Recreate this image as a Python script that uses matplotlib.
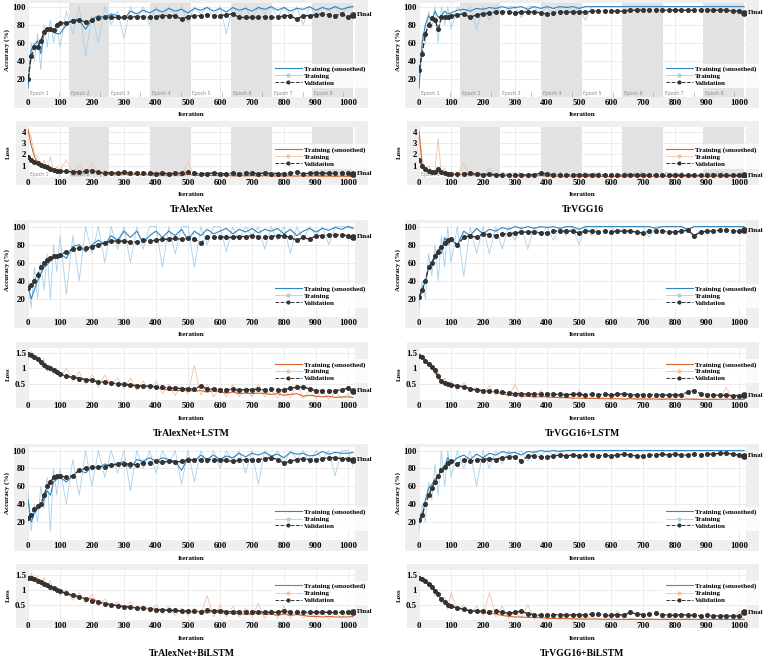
import matplotlib.pyplot as plt
from matplotlib.patches import Rectangle
from matplotlib.lines import Line2D

iters = [0, 10, 20, 30, 40, 50, 60, 70, 80, 90,
         100, 120, 140, 160, 180, 200, 220, 240, 260, 280,
         300, 320, 340, 360, 380, 400, 420, 440, 460, 480,
         500, 520, 540, 560, 580, 600, 620, 640, 660, 680,
         700, 720, 740, 760, 780, 800, 820, 840, 860, 880,
         900, 920, 940, 960, 980, 1000, 1016]

titles = ['TrAlexNet', 'TrVGG16', 'TrAlexNet+LSTM', 'TrVGG16+LSTM',
          'TrAlexNet+BiLSTM', 'TrVGG16+BiLSTM']

# ---- TrAlexNet ----
alex_acc_s = [10, 52, 58, 62, 48, 70, 75, 74, 72, 70,
              70, 80, 86, 85, 75, 86, 90, 88, 92, 90,
              86, 95, 92, 96, 93, 97, 94, 98, 95, 97,
              93, 98, 96, 99, 95, 98, 94, 99, 96, 98,
              95, 99, 97, 100, 96, 99, 95, 98, 97, 100,
              96, 99, 97, 100, 97, 99, 100]
alex_acc_r = [10, 60, 40, 70, 30, 80, 55, 85, 60, 80,
              55, 95, 70, 100, 45, 90, 60, 100, 80, 95,
              65, 100, 85, 100, 80, 100, 85, 100, 90, 100,
              82, 100, 92, 100, 88, 100, 70, 100, 90, 100,
              85, 100, 92, 100, 88, 100, 90, 100, 80, 100,
              92, 100, 95, 100, 90, 100, 100]
alex_acc_v = [20, 45, 55, 55, 62, 72, 75, 75, 74, 80,
              82, 82, 84, 85, 83, 85, 87, 88, 88, 88,
              88, 88, 89, 89, 88, 89, 90, 90, 90, 86,
              89, 90, 90, 91, 90, 90, 91, 92, 88, 88,
              88, 88, 89, 88, 88, 90, 90, 86, 90, 90,
              91, 92, 91, 90, 92, 88, 91]
alex_loss_s = [4.2, 2.8, 1.8, 1.3, 1.0, 0.8, 0.7, 0.9, 0.6, 0.55,
               0.5, 0.45, 0.5, 0.4, 0.45, 0.65, 0.3, 0.3, 0.25, 0.25,
               0.25, 0.2, 0.22, 0.2, 0.18, 0.2, 0.18, 0.15, 0.2, 0.15,
               0.25, 0.15, 0.12, 0.15, 0.12, 0.12, 0.15, 0.1, 0.12, 0.1,
               0.12, 0.1, 0.12, 0.08, 0.1, 0.08, 0.1, 0.08, 0.1, 0.08,
               0.1, 0.07, 0.08, 0.06, 0.08, 0.06, 0.05]
alex_loss_r = [4.2, 3.5, 2.0, 1.8, 0.8, 1.5, 0.6, 1.8, 0.5, 0.9,
               0.6, 1.5, 0.4, 1.0, 0.5, 1.2, 0.2, 0.6, 0.3, 0.5,
               0.2, 0.5, 0.2, 0.3, 0.15, 0.5, 0.1, 0.2, 0.3, 0.1,
               1.3, 0.1, 0.3, 0.1, 0.2, 0.1, 0.3, 0.05, 0.2, 0.1,
               0.2, 0.05, 0.15, 0.1, 0.05, 0.15, 0.05, 0.1, 0.2, 0.05,
               0.1, 0.05, 0.15, 0.05, 0.1, 0.05, 0.05]
alex_loss_v = [1.8, 1.5, 1.3, 1.2, 1.1, 1.0, 0.85, 0.7, 0.6, 0.55,
               0.5, 0.5, 0.45, 0.45, 0.5, 0.55, 0.4, 0.38, 0.35, 0.35,
               0.4, 0.35, 0.33, 0.35, 0.32, 0.3, 0.33, 0.3, 0.32, 0.35,
               0.4, 0.32, 0.3, 0.3, 0.35, 0.3, 0.3, 0.32, 0.3, 0.35,
               0.32, 0.3, 0.35, 0.3, 0.3, 0.3, 0.32, 0.4, 0.3, 0.32,
               0.35, 0.35, 0.32, 0.35, 0.33, 0.32, 0.3]

# ---- TrVGG16 ----
vgg_acc_s = [10, 60, 80, 90, 85, 95, 88, 90, 95, 92,
             93, 96, 97, 95, 98, 97, 99, 98, 100, 98,
             99, 100, 97, 100, 98, 100, 98, 100, 99, 100,
             98, 100, 100, 100, 100, 100, 100, 100, 100, 100,
             100, 100, 100, 100, 100, 100, 100, 100, 100, 100,
             100, 100, 100, 100, 100, 100, 100]
vgg_acc_r = [10, 70, 60, 95, 75, 100, 60, 100, 80, 100,
             75, 100, 90, 100, 75, 100, 85, 100, 90, 100,
             100, 88, 100, 100, 92, 100, 90, 100, 100, 95,
             100, 85, 100, 100, 100, 100, 100, 100, 100, 100,
             100, 100, 100, 100, 100, 100, 100, 100, 100, 100,
             100, 100, 100, 100, 100, 100, 100]
vgg_acc_v = [30, 48, 70, 80, 87, 85, 75, 88, 88, 88,
             90, 91, 92, 88, 91, 92, 93, 94, 94, 94,
             93, 94, 94, 94, 93, 92, 93, 94, 94, 94,
             94, 94, 95, 95, 95, 95, 95, 95, 96, 96,
             96, 96, 96, 96, 96, 96, 96, 96, 96, 96,
             96, 96, 96, 96, 95, 95, 93]
vgg_loss_s = [4.0, 1.0, 0.6, 0.5, 0.45, 0.4, 0.7, 0.4, 0.3, 0.25,
              0.25, 0.2, 0.25, 0.2, 0.2, 0.18, 0.15, 0.15, 0.12, 0.12,
              0.1, 0.1, 0.1, 0.08, 0.12, 0.1, 0.08, 0.06, 0.08, 0.06,
              0.06, 0.05, 0.05, 0.04, 0.05, 0.04, 0.04, 0.04, 0.03, 0.04,
              0.03, 0.03, 0.03, 0.03, 0.03, 0.03, 0.02, 0.03, 0.02, 0.02,
              0.02, 0.02, 0.02, 0.02, 0.02, 0.02, 0.02]
vgg_loss_r = [4.2, 1.5, 0.4, 1.0, 0.3, 0.6, 3.4, 0.2, 0.8, 0.1,
              0.4, 0.1, 1.2, 0.1, 0.3, 0.1, 0.8, 0.05, 0.3, 0.05,
              0.2, 0.05, 0.1, 0.05, 0.2, 0.05, 0.1, 0.02, 0.1, 0.02,
              0.05, 0.02, 0.05, 0.02, 0.03, 0.02, 0.02, 0.02, 0.02, 0.02,
              0.02, 0.03, 0.02, 0.02, 0.03, 0.02, 0.02, 0.02, 0.03, 0.02,
              0.02, 0.02, 0.03, 0.02, 0.02, 0.02, 0.02]
vgg_loss_v = [1.5, 1.0, 0.7, 0.55, 0.45, 0.4, 0.7, 0.45, 0.35, 0.3,
              0.3, 0.28, 0.3, 0.35, 0.25, 0.22, 0.25, 0.2, 0.2, 0.18,
              0.2, 0.18, 0.2, 0.22, 0.32, 0.25, 0.2, 0.2, 0.18, 0.2,
              0.2, 0.18, 0.18, 0.2, 0.18, 0.18, 0.18, 0.16, 0.2, 0.18,
              0.16, 0.18, 0.16, 0.15, 0.16, 0.15, 0.16, 0.15, 0.15, 0.15,
              0.15, 0.16, 0.15, 0.15, 0.15, 0.15, 0.15]

# ---- TrAlexNet+LSTM ----
alexl_acc_s = [35, 20, 30, 40, 48, 55, 58, 62, 65, 68,
               70, 65, 78, 80, 72, 80, 85, 80, 90, 85,
               95, 88, 95, 82, 90, 95, 88, 95, 90, 97,
               85, 95, 90, 97, 92, 95, 98, 92, 97, 94,
               98, 93, 97, 95, 98, 92, 97, 90, 95, 98,
               94, 98, 96, 99, 97, 100, 98]
alexl_acc_r = [40, 10, 55, 20, 60, 30, 70, 20, 80, 50,
               90, 25, 90, 40, 100, 70, 100, 60, 100, 75,
               100, 60, 100, 75, 100, 100, 55, 100, 70, 100,
               100, 55, 100, 80, 100, 100, 72, 100, 85, 100,
               90, 100, 75, 100, 85, 100, 70, 100, 85, 100,
               90, 100, 80, 100, 100, 100, 100]
alexl_acc_v = [32, 35, 40, 47, 55, 60, 63, 65, 67, 68,
               69, 72, 75, 76, 76, 78, 80, 82, 84, 84,
               84, 83, 83, 85, 84, 85, 86, 86, 87, 86,
               87, 86, 82, 88, 88, 89, 88, 88, 89, 89,
               90, 89, 88, 89, 90, 90, 88, 85, 88, 86,
               90, 90, 91, 91, 91, 90, 89]
alexl_loss_s = [1.4, 1.45, 1.4, 1.3, 1.2, 1.1, 1.0, 0.95, 0.9, 0.85,
                0.8, 0.75, 0.7, 0.72, 0.65, 0.6, 0.58, 0.55, 0.55, 0.5,
                0.48, 0.45, 0.45, 0.42, 0.45, 0.4, 0.35, 0.32, 0.3, 0.3,
                0.3, 0.28, 0.3, 0.25, 0.3, 0.25, 0.22, 0.25, 0.2, 0.22,
                0.2, 0.22, 0.2, 0.18, 0.2, 0.15, 0.18, 0.2, 0.12, 0.15,
                0.12, 0.1, 0.12, 0.08, 0.1, 0.1, 0.08]
alexl_loss_r = [1.3, 1.55, 1.3, 1.4, 1.1, 1.3, 0.9, 1.1, 0.8, 1.0,
                0.7, 1.0, 0.6, 0.9, 0.5, 0.8, 0.4, 0.8, 0.45, 0.7,
                0.35, 0.7, 0.3, 0.6, 0.3, 0.6, 0.2, 0.5, 0.15, 0.45,
                0.2, 1.1, 0.15, 0.5, 0.1, 0.4, 0.1, 0.5, 0.1, 0.4,
                0.1, 0.5, 0.1, 0.3, 0.05, 0.4, 0.05, 0.5, 0.05, 0.3,
                0.05, 0.3, 0.02, 0.25, 0.05, 0.2, 0.05]
alexl_loss_v = [1.45, 1.42, 1.38, 1.3, 1.2, 1.12, 1.05, 1.0, 0.95, 0.88,
                0.82, 0.76, 0.72, 0.68, 0.65, 0.62, 0.58, 0.56, 0.54, 0.52,
                0.5, 0.48, 0.46, 0.44, 0.44, 0.42, 0.4, 0.38, 0.38, 0.36,
                0.36, 0.34, 0.45, 0.34, 0.35, 0.33, 0.33, 0.34, 0.32, 0.33,
                0.33, 0.35, 0.32, 0.34, 0.33, 0.32, 0.38, 0.4, 0.42, 0.35,
                0.3, 0.3, 0.3, 0.3, 0.32, 0.38, 0.3]

# ---- TrVGG16+LSTM ----
vggl_acc_s = [20, 30, 40, 55, 60, 65, 75, 70, 88, 80,
              85, 80, 95, 90, 98, 92, 97, 95, 99, 97,
              100, 98, 100, 98, 100, 99, 100, 98, 100, 100,
              97, 100, 100, 100, 100, 100, 100, 100, 100, 100,
              100, 100, 98, 100, 100, 100, 100, 97, 100, 100,
              100, 100, 100, 100, 100, 100, 100]
vggl_acc_r = [10, 40, 20, 70, 45, 80, 40, 90, 55, 100,
              60, 100, 45, 100, 70, 100, 70, 100, 75, 100,
              85, 100, 75, 100, 90, 100, 85, 100, 90, 100,
              80, 100, 90, 100, 100, 100, 92, 100, 100, 100,
              100, 88, 100, 100, 100, 100, 100, 95, 100, 100,
              100, 100, 100, 100, 100, 100, 100]
vggl_acc_v = [22, 30, 40, 55, 60, 68, 72, 78, 82, 85,
              86, 80, 88, 90, 88, 92, 91, 90, 92, 92,
              93, 94, 94, 94, 93, 93, 95, 95, 95, 95,
              93, 95, 95, 94, 95, 94, 95, 95, 95, 94,
              93, 95, 95, 95, 94, 94, 95, 96, 90, 94,
              95, 95, 96, 96, 95, 95, 96]
vggl_loss_s = [1.4, 1.35, 1.25, 1.15, 1.05, 0.9, 0.7, 0.6, 0.55, 0.5,
               0.5, 0.45, 0.4, 0.35, 0.3, 0.3, 0.28, 0.25, 0.2, 0.15,
               0.15, 0.12, 0.12, 0.1, 0.1, 0.1, 0.08, 0.08, 0.07, 0.06,
               0.06, 0.05, 0.05, 0.05, 0.04, 0.04, 0.04, 0.03, 0.04, 0.03,
               0.03, 0.03, 0.03, 0.02, 0.03, 0.02, 0.02, 0.03, 0.02, 0.02,
               0.02, 0.02, 0.02, 0.03, 0.02, 0.02, 0.02]
vggl_loss_r = [1.45, 1.3, 1.3, 1.1, 1.1, 0.8, 0.9, 0.5, 0.7, 0.4,
               0.6, 0.3, 0.55, 0.25, 0.4, 0.2, 0.45, 0.15, 0.3, 0.1,
               0.5, 0.05, 0.2, 0.05, 0.3, 0.05, 0.2, 0.02, 0.15, 0.02,
               0.3, 0.02, 0.1, 0.02, 0.1, 0.02, 0.25, 0.02, 0.05, 0.02,
               0.05, 0.02, 0.1, 0.02, 0.05, 0.02, 0.2, 0.02, 0.05, 0.02,
               0.02, 0.05, 0.02, 0.4, 0.02, 0.02, 0.02]
vggl_loss_v = [1.4, 1.35, 1.25, 1.15, 1.05, 0.95, 0.75, 0.6, 0.55, 0.5,
               0.48, 0.45, 0.42, 0.36, 0.32, 0.3, 0.28, 0.3, 0.25, 0.22,
               0.2, 0.2, 0.18, 0.2, 0.18, 0.2, 0.18, 0.18, 0.17, 0.18,
               0.18, 0.16, 0.18, 0.17, 0.18, 0.16, 0.18, 0.2, 0.17, 0.16,
               0.17, 0.16, 0.17, 0.16, 0.16, 0.16, 0.17, 0.25, 0.3, 0.2,
               0.17, 0.16, 0.15, 0.15, 0.14, 0.14, 0.15]

# ---- TrAlexNet+BiLSTM ----
alexb_acc_s = [45, 20, 30, 35, 38, 45, 55, 50, 65, 68,
               70, 65, 72, 78, 75, 82, 80, 85, 83, 85,
               88, 80, 90, 88, 92, 88, 92, 90, 88, 78,
               92, 88, 95, 90, 95, 90, 94, 92, 97, 93,
               97, 95, 98, 94, 96, 92, 98, 96, 97, 94,
               95, 99, 96, 98, 97, 97, 98]
alexb_acc_r = [55, 10, 40, 20, 60, 35, 70, 10, 80, 50,
               80, 40, 90, 50, 100, 60, 100, 70, 100, 75,
               100, 55, 100, 80, 100, 75, 100, 85, 100, 62,
               100, 65, 100, 85, 100, 80, 100, 88, 100, 75,
               100, 62, 100, 90, 100, 85, 100, 90, 100, 85,
               100, 90, 100, 72, 100, 100, 82]
alexb_acc_v = [25, 28, 35, 38, 40, 50, 60, 65, 70, 72,
               72, 70, 72, 78, 80, 82, 82, 82, 84, 85,
               85, 85, 84, 86, 86, 88, 87, 88, 87, 88,
               90, 89, 90, 90, 90, 89, 89, 88, 89, 90,
               90, 90, 91, 92, 90, 86, 88, 90, 91, 90,
               90, 91, 92, 92, 91, 91, 90]
alexb_loss_s = [1.4, 1.45, 1.4, 1.35, 1.3, 1.25, 1.2, 1.1, 1.05, 1.0,
                0.95, 0.85, 0.8, 0.78, 0.7, 0.7, 0.6, 0.55, 0.5, 0.48,
                0.45, 0.42, 0.4, 0.4, 0.38, 0.35, 0.33, 0.32, 0.3, 0.28,
                0.28, 0.25, 0.3, 0.22, 0.3, 0.22, 0.25, 0.2, 0.22, 0.18,
                0.2, 0.22, 0.18, 0.2, 0.15, 0.2, 0.15, 0.18, 0.15, 0.12,
                0.12, 0.1, 0.12, 0.1, 0.1, 0.1, 0.12]
alexb_loss_r = [1.3, 1.55, 1.3, 1.45, 1.2, 1.4, 1.1, 1.3, 0.95, 1.1,
                0.8, 1.0, 0.65, 0.9, 0.55, 0.85, 0.45, 0.7, 0.4, 0.6,
                0.35, 0.6, 0.3, 0.5, 0.25, 0.5, 0.2, 0.45, 0.15, 0.4,
                0.15, 0.4, 0.2, 0.8, 0.1, 0.5, 0.1, 0.45, 0.1, 0.4,
                0.1, 0.55, 0.05, 0.35, 0.05, 0.45, 0.05, 0.35, 0.05, 0.3,
                0.05, 0.3, 0.02, 0.25, 0.05, 0.3, 0.05]
alexb_loss_v = [1.4, 1.38, 1.35, 1.3, 1.25, 1.2, 1.15, 1.1, 1.05, 1.0,
                0.95, 0.88, 0.82, 0.76, 0.7, 0.62, 0.58, 0.54, 0.5, 0.47,
                0.44, 0.42, 0.4, 0.38, 0.36, 0.34, 0.33, 0.32, 0.32, 0.3,
                0.3, 0.29, 0.28, 0.32, 0.3, 0.3, 0.28, 0.27, 0.28, 0.28,
                0.28, 0.27, 0.26, 0.25, 0.26, 0.3, 0.27, 0.26, 0.25, 0.26,
                0.25, 0.26, 0.25, 0.25, 0.25, 0.27, 0.28]

# ---- TrVGG16+BiLSTM ----
vggb_acc_s = [20, 25, 45, 58, 62, 68, 72, 80, 82, 92,
              85, 92, 95, 90, 96, 92, 97, 95, 99, 97,
              98, 95, 99, 98, 100, 99, 100, 99, 100, 100,
              100, 100, 100, 100, 100, 100, 100, 100, 100, 100,
              100, 100, 100, 100, 100, 100, 100, 100, 100, 100,
              100, 100, 100, 100, 100, 100, 100]
vggb_acc_r = [10, 40, 20, 65, 45, 85, 50, 100, 60, 100,
              70, 100, 80, 100, 60, 100, 80, 100, 85, 100,
              90, 100, 88, 100, 95, 100, 95, 100, 100, 100,
              100, 100, 100, 100, 100, 100, 100, 100, 100, 100,
              100, 100, 100, 100, 100, 100, 100, 100, 100, 100,
              100, 100, 100, 100, 100, 100, 100]
vggb_acc_v = [22, 28, 40, 50, 58, 65, 72, 78, 82, 86,
              88, 85, 90, 88, 90, 90, 91, 90, 92, 93,
              93, 88, 94, 94, 93, 93, 94, 95, 94, 95,
              94, 95, 95, 94, 95, 94, 95, 96, 95, 94,
              94, 95, 95, 96, 95, 96, 95, 95, 96, 95,
              96, 96, 97, 97, 96, 95, 94]
vggb_loss_s = [1.4, 1.35, 1.3, 1.2, 1.1, 0.95, 0.8, 0.7, 0.6, 0.5,
               0.45, 0.4, 0.35, 0.3, 0.28, 0.25, 0.22, 0.2, 0.15, 0.12,
               0.1, 0.1, 0.08, 0.08, 0.07, 0.06, 0.05, 0.05, 0.04, 0.04,
               0.03, 0.03, 0.03, 0.03, 0.02, 0.03, 0.02, 0.02, 0.02, 0.02,
               0.02, 0.02, 0.02, 0.02, 0.02, 0.02, 0.02, 0.02, 0.02, 0.02,
               0.02, 0.02, 0.02, 0.02, 0.02, 0.02, 0.02]
vggb_loss_r = [1.45, 1.3, 1.35, 1.1, 1.2, 0.8, 0.9, 0.55, 0.75, 0.35,
               0.9, 0.3, 0.5, 0.2, 0.45, 0.15, 0.9, 0.1, 0.45, 0.05,
               0.3, 0.05, 0.5, 0.02, 0.2, 0.02, 0.1, 0.02, 0.15, 0.02,
               0.05, 0.02, 0.1, 0.02, 0.02, 0.02, 0.3, 0.02, 0.05, 0.02,
               0.02, 0.05, 0.02, 0.02, 0.1, 0.02, 0.02, 0.05, 0.02, 0.02,
               0.02, 0.02, 0.05, 0.02, 0.02, 0.3, 0.02]
vggb_loss_v = [1.4, 1.35, 1.3, 1.2, 1.1, 0.95, 0.85, 0.7, 0.6, 0.48,
               0.45, 0.4, 0.35, 0.3, 0.3, 0.3, 0.28, 0.3, 0.25, 0.22,
               0.25, 0.3, 0.2, 0.18, 0.15, 0.15, 0.17, 0.18, 0.16, 0.17,
               0.18, 0.16, 0.2, 0.2, 0.15, 0.15, 0.18, 0.16, 0.25, 0.2,
               0.18, 0.2, 0.22, 0.18, 0.16, 0.15, 0.18, 0.16, 0.15, 0.14,
               0.15, 0.14, 0.13, 0.13, 0.13, 0.13, 0.25]

W, H = 765, 658
plt.rcParams['font.family'] = ['Liberation Serif', 'DejaVu Serif']
plt.rcParams['font.weight'] = 'bold'
plt.rcParams['axes.labelweight'] = 'bold'

BLUE, LBLUE = '#2F85C0', '#A9D0EA'
ORANGE, LORANGE = '#D8652E', '#F3C2A4'
DARK = '#333333'
EPOCH = 127

fig = plt.figure(figsize=(W / 100, H / 100), dpi=100)


def box(l, t, r, b):
    return [l / W, 1 - b / H, (r - l) / W, (b - t) / H]


def gray_back(l, t, r, b):
    fig.add_artist(Rectangle((l / W, 1 - b / H), (r - l) / W, (b - t) / H,
                             transform=fig.transFigure, color='#EFEFEF',
                             lw=0, zorder=-5))


def setup(ax, ymax, yticks, epochs, ep_y):
    ax.set_xlim(0, 1022)
    ax.set_ylim(0, ymax)
    ax.set_xticks(range(0, 1001, 100))
    ax.set_yticks(yticks)
    ax.set_yticklabels([f'{t:g}' for t in yticks])
    ax.tick_params(labelsize=6.3, length=0, pad=1.5)
    for s in ax.spines.values():
        s.set_visible(False)
    ax.grid(True, color='#E4E4E4', lw=0.5)
    ax.set_axisbelow(True)
    if epochs:
        for e in range(1, 8, 2):
            ax.axvspan(e * EPOCH, (e + 1) * EPOCH, color='#E2E2E2', lw=0, zorder=0)
        for e in range(8):
            ax.text(e * EPOCH + 6, ep_y, f'Epoch {e + 1}', fontsize=3.3,
                    color='#8A8A8A', family='DejaVu Sans', fontweight='normal')
            ax.plot([(e + 1) * EPOCH - 30] * 2, [0, ep_y * 2.2], color='#9A9A9A', lw=0.4)


def curves(ax, s, r, v, c_s, c_r):
    ax.plot(iters, r, color=c_r, lw=0.6, zorder=2)
    ax.plot(iters, s, color=c_s, lw=0.8, zorder=3)
    ax.plot(iters, v, color=DARK, ls='--', lw=1.0, marker='o', ms=2.6,
            zorder=4)
    ax.plot(iters[-1], v[-1], 'o', color=DARK, ms=3.8, zorder=5)
    ax.annotate('Final', xy=(iters[-1], v[-1]), xytext=(3, 0),
                textcoords='offset points', va='center', fontsize=5)


def legend(ax, c_s, c_r, anchor, loc):
    h = [Line2D([], [], color=c_s, lw=0.8),
         Line2D([], [], color=c_r, lw=0.6, marker='o', ms=2),
         Line2D([], [], color=DARK, ls='--', lw=0.7, marker='o', ms=2)]
    lg = ax.legend(h, ['Training (smoothed)', 'Training', 'Validation'],
                   loc=loc, bbox_to_anchor=anchor, fontsize=5,
                   handlelength=4.0, handletextpad=0.3, labelspacing=0.15,
                   borderpad=0.3, frameon=True, fancybox=False)
    lg.get_frame().set_facecolor('white')
    lg.get_frame().set_edgecolor('none')
    lg.set_zorder(6)


panels = [
    (alex_acc_s, alex_acc_r, alex_acc_v, alex_loss_s, alex_loss_r, alex_loss_v),
    (vgg_acc_s, vgg_acc_r, vgg_acc_v, vgg_loss_s, vgg_loss_r, vgg_loss_v),
    (alexl_acc_s, alexl_acc_r, alexl_acc_v, alexl_loss_s, alexl_loss_r, alexl_loss_v),
    (vggl_acc_s, vggl_acc_r, vggl_acc_v, vggl_loss_s, vggl_loss_r, vggl_loss_v),
    (alexb_acc_s, alexb_acc_r, alexb_acc_v, alexb_loss_s, alexb_loss_r, alexb_loss_v),
    (vggb_acc_s, vggb_acc_r, vggb_acc_v, vggb_loss_s, vggb_loss_r, vggb_loss_v),
]

cols = [(28, 355), (419, 746)]
acc_rows = [(3, 97), (223, 317), (447, 540)]
loss_rows = [(127, 177), (348, 400), (570, 620)]

for i, (acc_s, acc_r, acc_v, loss_s, loss_r, loss_v) in enumerate(panels):
    row, col = divmod(i, 2)
    l, r = cols[col]
    epochs = row == 0

    # accuracy
    t, b = acc_rows[row]
    gray_back(l - 14, max(t - 3, 0), r + 13, b + 11)
    ax = fig.add_axes(box(l, t, r, b))
    setup(ax, 104, [20, 40, 60, 80, 100], epochs, 2.5)
    curves(ax, acc_s, acc_r, acc_v, BLUE, LBLUE)
    legend(ax, BLUE, LBLUE, (1.05, 0.06), 'lower right')
    fig.text((l - 21) / W, 1 - (t + b) / 2 / H, 'Accuracy (%)', rotation=90,
             ha='center', va='center', fontsize=5)
    fig.text((l + r) / 2 / W, 1 - (b + 18) / H, 'Iteration', ha='center',
             va='center', fontsize=5)

    # loss
    t, b = loss_rows[row]
    gray_back(l - 12, t - 6, r + 13, b + 8)
    ax = fig.add_axes(box(l, t, r, b))
    if row == 0:
        setup(ax, 4.4, [1, 2, 3, 4], epochs, 0.12)
        legend(ax, ORANGE, LORANGE, (1.05, 0.72), 'upper right')
    else:
        setup(ax, 1.65, [0.5, 1, 1.5], epochs, 0.05)
        legend(ax, ORANGE, LORANGE, (1.05, 0.85), 'upper right')
    curves(ax, loss_s, loss_r, loss_v, ORANGE, LORANGE)
    fig.text((l - 20) / W, 1 - (t + b) / 2 / H, 'Loss', rotation=90,
             ha='center', va='center', fontsize=5)
    fig.text((l + r) / 2 / W, 1 - (b + 18) / H, 'Iteration', ha='center',
             va='center', fontsize=5)
    fig.text((l + r) / 2 / W, 1 - (b + 33) / H, titles[i], ha='center',
             va='center', fontsize=7)

fig.savefig('out.png', dpi=100)
